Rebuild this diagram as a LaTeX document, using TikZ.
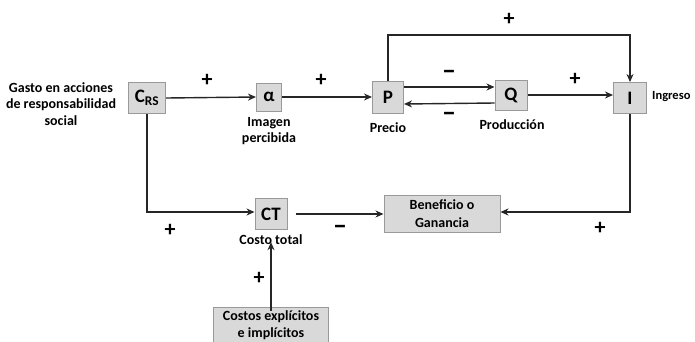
\documentclass[tikz,border=0pt]{standalone}
\usepackage{fontspec}
\setmainfont{Carlito}
\usetikzlibrary{arrows.meta}
\begin{document}
\begin{tikzpicture}[x=1pt,y=-1pt,
  box/.style={draw=black!40,fill=black!15,line width=1pt,inner sep=0pt,font=\bfseries\fontsize{19}{20}\selectfont},
  lbl/.style={font=\bfseries\fontsize{14}{16.5}\selectfont,align=center,inner sep=0pt},
  sign/.style={font=\bfseries\fontsize{22}{22}\selectfont,inner sep=0pt},
  minus/.style={font=\bfseries\fontsize{28}{28}\selectfont,inner sep=0pt},
  conn/.style={draw=black!85,line width=1.4pt,-{Stealth[length=8pt,width=7pt]}}]
\useasboundingbox (0,0) rectangle (695,341);
% boxes
\node[box,minimum width=37pt,minimum height=31pt] (crs) at (147,98) {C\textsubscript{RS}};
\node[box,minimum width=25pt,minimum height=28pt] (alpha) at (269,97) {α};
\node[box,minimum width=31pt,minimum height=32pt] (p) at (388,97) {P};
\node[box,minimum width=32pt,minimum height=30pt] (q) at (511,95) {Q};
\node[box,minimum width=33pt,minimum height=31pt] (i) at (630,98) {I};
\node[box,minimum width=32pt,minimum height=31pt] (ct) at (271,214) {CT};
\node[box,minimum width=116pt,minimum height=37pt,font=\bfseries\fontsize{14}{18}\selectfont,align=center] (ben) at (442,214) {Beneficio o\\Ganancia};
\node[box,minimum width=115pt,minimum height=36pt,font=\bfseries\fontsize{14}{17}\selectfont,align=center] (cos) at (271,325) {Costos explícitos\\e implícitos};
% labels
\node[lbl] (tgasto) at (61,104) {Gasto en acciones\\de responsabilidad\\social};
\node[lbl] (timg) at (269,131) {Imagen\\percibida};
\node[lbl] (tprecio) at (388,128) {Precio};
\node[lbl] (tprod) at (512,125) {Producción};
\node[lbl,anchor=west,font=\bfseries\fontsize{12.5}{14}\selectfont] (ting) at (652,97) {Ingreso};
\node[lbl] (tct) at (271,240) {Costo total};
% connectors
\draw[conn] ([yshift=10pt]p.east) -- ([yshift=8pt]q.west);
\draw[conn] ([yshift=-8pt]q.west) -- ([yshift=-7pt]p.east);
\draw[conn] (crs.east) -- (alpha.west);
\draw[conn] (alpha.east) -- (p.west);
\draw[conn] (q.east) -- (i.west |- q.east);
\draw[conn] (p.north) -- (p.north |- 0,35) -- (i.north |- 0,35) -- (i.north);
\draw[conn] (crs.south) -- (crs.south |- 0,212) -- (ct.west |- 0,212);
\draw[conn] ([xshift=8pt]ct.east) -- (ben.west);
\draw[conn] (i.south) -- (i.south |- 0,212) -- (ben.east |- 0,212);
\draw[conn] ([yshift=-4pt]cos.north) -- ([yshift=3pt]tct.south);
% signs
\node[sign] (s1) at (207,80) {+};
\node[sign] (s2) at (321,80) {+};
\node[sign] (s3) at (509,19) {+};
\node[minus] (s4) at (449,75) {–};
\node[minus] (s5) at (449,117) {–};
\node[sign] (s6) at (575,79) {+};
\node[sign] (s7) at (170,230) {+};
\node[minus] (s8) at (340,230) {–};
\node[sign] (s9) at (600,228) {+};
\node[sign] (s10) at (259,278) {+};
\end{tikzpicture}
\end{document}
